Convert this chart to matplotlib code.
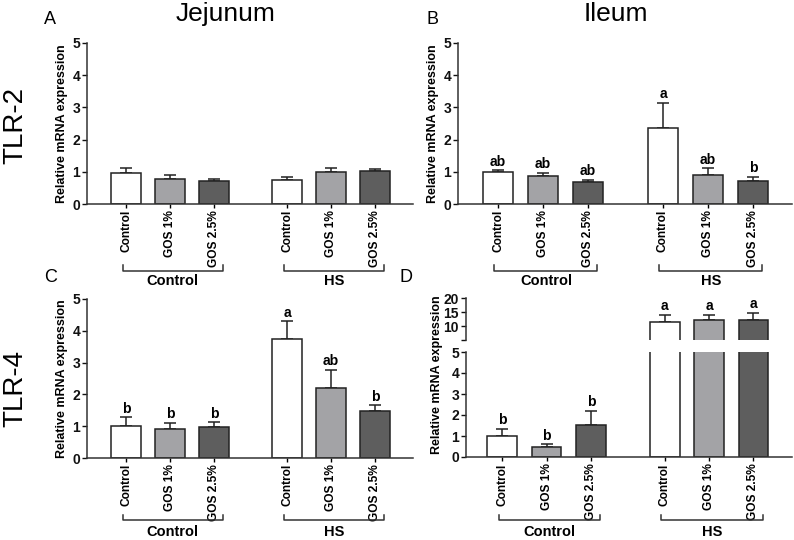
import matplotlib
matplotlib.use("Agg")
import matplotlib.pyplot as plt
import matplotlib.transforms as mtransforms

plt.rcParams["font.family"] = ["Liberation Sans", "DejaVu Sans"]

treatments = ["Control", "GOS 1%", "GOS 2.5%"]
groups = ["Control", "HS"]
x = [0, 1, 2, 3.67, 4.67, 5.67]
tick_labels = treatments + treatments

# means and upper error (SEM)
jej_tlr2_mean = [0.96, 0.79, 0.72, 0.75, 0.99, 1.03]
jej_tlr2_err = [0.15, 0.11, 0.06, 0.08, 0.14, 0.06]

ile_tlr2_mean = [0.99, 0.86, 0.69, 2.37, 0.89, 0.72]
ile_tlr2_err = [0.06, 0.11, 0.07, 0.78, 0.23, 0.13]
ile_tlr2_letters = ["ab", "ab", "ab", "a", "ab", "b"]

jej_tlr4_mean = [1.01, 0.90, 0.96, 3.74, 2.21, 1.49]
jej_tlr4_err = [0.27, 0.21, 0.17, 0.56, 0.57, 0.17]
jej_tlr4_letters = ["b", "b", "b", "a", "ab", "b"]

ile_tlr4_mean = [1.01, 0.48, 1.53, 11.5, 12.2, 12.0]
ile_tlr4_err = [0.33, 0.14, 0.67, 2.6, 1.9, 2.8]
ile_tlr4_letters = ["b", "b", "b", "a", "a", "a"]

colors = ["white", "#a3a3a6", "#5e5e5e"] * 2
edge = "#222222"
W, H = 794, 540


def fx(px):
    return px / W


def fy(py):
    return 1 - py / H


def style(ax, bottom=True, xlim=(-0.89, 6.54)):
    for s in ["top", "right"]:
        ax.spines[s].set_visible(False)
    for s in ["left", "bottom"]:
        ax.spines[s].set_linewidth(1.1)
        ax.spines[s].set_color("#333333")
    ax.tick_params(axis="y", length=3.5, width=1, labelsize=10, pad=1.5, colors="#111111")
    for lab in ax.get_yticklabels():
        lab.set_fontweight("bold")
    if bottom:
        ax.set_xticks(x)
        ax.set_xticklabels(tick_labels, rotation=90, fontsize=8.6, fontweight="bold")
        ax.tick_params(axis="x", length=3, width=1, pad=1.5)
    ax.set_xlim(*xlim)


def bars(ax, mean, err, letters=None, show_err=True):
    ax.bar(x, mean, width=0.67, color=colors, edgecolor=edge, linewidth=1.1, zorder=2)
    if show_err:
        ax.errorbar(x, mean, yerr=[[0] * len(err), err], fmt="none", ecolor=edge,
                    elinewidth=1.1, capsize=4.5, capthick=1.1, zorder=1)
    if letters:
        for xi, m, e, t in zip(x, mean, err, letters):
            ax.annotate(t, (xi, m + e), xytext=(0, 1.0), textcoords="offset points",
                        ha="center", va="bottom", fontsize=10, fontweight="bold")


def brackets(ax, y_line, y_tip, y_text):
    tr = mtransforms.blended_transform_factory(ax.transData, ax.figure.transFigure)
    for i, g in enumerate(groups):
        x0 = x[3 * i] - 0.08
        x1 = x[3 * i + 2] + 0.21
        ax.plot([x0, x0, x1, x1], [fy(y_tip), fy(y_line), fy(y_line), fy(y_tip)],
                color="#333333", lw=1.1, transform=tr, clip_on=False)
        ax.text((x0 + x1) / 2, fy(y_text), g, transform=tr, ha="center", va="center",
                fontsize=10.5, fontweight="bold")


fig = plt.figure(figsize=(W / 100, H / 100), dpi=100)
ylab = "Relative mRNA expression"

# A: jejunum TLR-2
axA = fig.add_axes([fx(87), fy(204), fx(413 - 87), (204 - 43) / H])
bars(axA, jej_tlr2_mean, jej_tlr2_err)
axA.set_ylim(0, 5)
style(axA)
axA.set_ylabel(ylab, fontsize=9, fontweight="bold", labelpad=3)
brackets(axA, 271, 265, 281)

# B: ileum TLR-2
axB = fig.add_axes([fx(458), fy(204), fx(792 - 458), (204 - 43) / H])
bars(axB, ile_tlr2_mean, ile_tlr2_err, ile_tlr2_letters)
axB.set_ylim(0, 5)
style(axB)
axB.set_ylabel(ylab, fontsize=9, fontweight="bold", labelpad=3)
brackets(axB, 271, 265, 281)

# C: jejunum TLR-4
axC = fig.add_axes([fx(87), fy(458), fx(413 - 87), (458 - 299) / H])
bars(axC, jej_tlr4_mean, jej_tlr4_err, jej_tlr4_letters)
axC.set_ylim(0, 5)
style(axC)
axC.set_ylabel(ylab, fontsize=9, fontweight="bold", labelpad=3)
brackets(axC, 520, 515, 532)

# D: ileum TLR-4 with broken axis
d_xlim = (-0.82, 6.54)
axD = fig.add_axes([fx(466), fy(457), fx(792 - 466), (457 - 352) / H])
axDu = fig.add_axes([fx(466), fy(340), fx(792 - 466), (340 - 298) / H])
bars(axD, ile_tlr4_mean, ile_tlr4_err, ile_tlr4_letters[:3])
bars(axDu, ile_tlr4_mean, ile_tlr4_err)
for xi, m, e, t in zip(x[3:], ile_tlr4_mean[3:], ile_tlr4_err[3:], ile_tlr4_letters[3:]):
    axDu.annotate(t, (xi, m + e), xytext=(0, 1.0), textcoords="offset points",
                  ha="center", va="bottom", fontsize=10, fontweight="bold")
axD.set_ylim(0, 5)
axD.set_yticks(range(6))
axDu.set_ylim(5, 20)
axDu.set_yticks([5, 10, 15, 20])
axDu.set_yticklabels(["", "10", "15", "20"])
style(axD, xlim=d_xlim)
style(axDu, bottom=False, xlim=d_xlim)
axDu.spines["bottom"].set_visible(False)
axDu.set_xticks([])
fig.text(fx(437), fy(375), ylab, rotation=90, ha="center", va="center",
         fontsize=9, fontweight="bold")
brackets(axD, 520, 515, 532)

# panel titles and letters
fig.text(fx(226), fy(14), "Jejunum", ha="center", va="center", fontsize=19)
fig.text(fx(616), fy(14), "Ileum", ha="center", va="center", fontsize=19)
for lab, px, py in [("A", 50, 19), ("B", 433, 19), ("C", 51, 277), ("D", 406, 277)]:
    fig.text(fx(px), fy(py), lab, ha="center", va="center", fontsize=13)
fig.text(fx(15), fy(125), "TLR-2", rotation=90, ha="center", va="center", fontsize=20)
fig.text(fx(15), fy(388), "TLR-4", rotation=90, ha="center", va="center", fontsize=20)

fig.savefig("out.png", dpi=100)
